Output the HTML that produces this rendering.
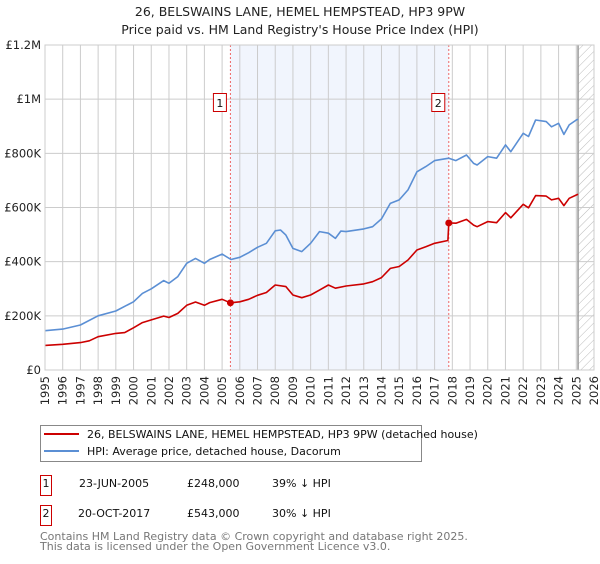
<!DOCTYPE html>
<html><head><meta charset="utf-8"><style>
body{margin:0;background:#fff;font-family:"DejaVu Sans","Liberation Sans",sans-serif;}
svg text{font-family:"DejaVu Sans","Liberation Sans",sans-serif;}
</style></head><body>
<svg id="c" width="600" height="560" viewBox="0 0 600 560" xmlns="http://www.w3.org/2000/svg">
<text x="300" y="16" font-size="12.5" text-anchor="middle" fill="#222">26, BELSWAINS LANE, HEMEL HEMPSTEAD, HP3 9PW</text>
<text x="300" y="34" font-size="12.5" text-anchor="middle" fill="#222">Price paid vs. HM Land Registry's House Price Index (HPI)</text>
<defs><pattern id="hatch" patternUnits="userSpaceOnUse" width="6" height="6" patternTransform="rotate(45)"><line x1="0" y1="0" x2="0" y2="6" stroke="#bbb" stroke-width="1"/></pattern></defs>
<g id="plot"></g>
<rect x="40.5" y="425.5" width="381" height="36" fill="#fff" stroke="#888"/>
<line x1="44" y1="434" x2="79" y2="434" stroke="#cc0000" stroke-width="2"/>
<text x="87" y="438" font-size="11" fill="#111">26, BELSWAINS LANE, HEMEL HEMPSTEAD, HP3 9PW (detached house)</text>
<line x1="44" y1="451" x2="79" y2="451" stroke="#5b8fd4" stroke-width="2"/>
<text x="87" y="455" font-size="11" fill="#111">HPI: Average price, detached house, Dacorum</text>
<g font-size="11" fill="#111">
<rect x="40.5" y="475.5" width="11" height="20" fill="#fff" stroke="#cc0000"/>
<text x="46" y="487" text-anchor="middle">1</text>
<text x="79" y="487">23-JUN-2005</text><text x="187" y="487">£248,000</text><text x="272" y="487">39% ↓ HPI</text></g>
<g font-size="11" fill="#111">
<rect x="40.5" y="505.5" width="11" height="20" fill="#fff" stroke="#cc0000"/>
<text x="46" y="517" text-anchor="middle">2</text>
<text x="78" y="517">20-OCT-2017</text><text x="187" y="517">£543,000</text><text x="272" y="517">30% ↓ HPI</text></g>
<text x="40" y="540" font-size="11" fill="#777">Contains HM Land Registry data © Crown copyright and database right 2025.</text>
<text x="40" y="550" font-size="11" fill="#777">This data is licensed under the Open Government Licence v3.0.</text>
</svg>
<script>
const yTicks=[0,200,400,600,800,1000,1200];
const yTickLabels=["£0","£200K","£400K","£600K","£800K","£1M","£1.2M"];
const xYears=[1995,1996,1997,1998,1999,2000,2001,2002,2003,2004,2005,2006,2007,2008,2009,2010,2011,2012,2013,2014,2015,2016,2017,2018,2019,2020,2021,2022,2023,2024,2025,2026];
const hpiT=[1995,1996,1997,1998,1999,2000,2000.5,2001,2001.7,2002,2002.5,2003,2003.5,2004,2004.3,2005,2005.5,2006,2006.5,2007,2007.5,2008,2008.3,2008.6,2009,2009.5,2010,2010.5,2011,2011.4,2011.7,2012,2013,2013.5,2014,2014.5,2015,2015.5,2016,2016.5,2017,2017.8,2018.2,2018.8,2019.2,2019.4,2020,2020.5,2021,2021.3,2022,2022.3,2022.7,2023.3,2023.6,2024,2024.3,2024.6,2025,2025.1];
const hpiV=[145,151,166,200,218,252,283,300,330,320,345,394,412,394,408,428,408,416,433,453,468,514,517,498,449,437,468,511,505,486,513,511,521,529,558,615,628,665,732,751,773,782,773,794,763,757,788,782,831,806,874,862,923,917,898,911,870,905,923,926];
const ppT=[1995,1996,1997,1997.5,1998,1999,1999.5,2000,2000.5,2001,2001.7,2002,2002.5,2003,2003.5,2004,2004.3,2005,2005.47,2006,2006.5,2007,2007.5,2008,2008.6,2009,2009.5,2010,2010.5,2011,2011.4,2012,2013,2013.5,2014,2014.5,2015,2015.5,2016,2016.5,2017,2017.75,2017.8,2018.2,2018.8,2019.2,2019.4,2020,2020.5,2021,2021.3,2022,2022.3,2022.7,2023.3,2023.6,2024,2024.3,2024.6,2025,2025.1];
const ppV=[91,95,101,108,123,135,138,156,175,185,199,194,209,239,251,239,249,261,248,252,261,276,286,314,308,277,267,277,295,314,302,310,318,326,341,375,382,406,443,455,468,478,543,542,556,535,529,548,544,581,562,612,599,644,642,628,634,607,634,646,649];
const saleT=[2005.47,2017.8];
const saleV=[248,543];
const saleLabels=["1","2"];
const X0=45,X1=594,Y0=370,Y1=45,T0=1995,T1=2026,VMAX=1200,DATA_END=2025.1;
const xs=t=>X0+(t-T0)/(T1-T0)*(X1-X0);
const ys=v=>Y0-v/VMAX*(Y0-Y1);
const NS="http://www.w3.org/2000/svg";
const g=document.getElementById('plot');
function mk(tag,attrs,parent){const e=document.createElementNS(NS,tag);for(const k in attrs)e.setAttribute(k,attrs[k]);(parent||g).appendChild(e);return e;}
let r=mk('rect',{x:X0,y:Y1,width:X1-X0,height:Y0-Y1,fill:'#fff'});


r=mk('rect',{x:xs(saleT[0]),y:Y1,width:xs(saleT[1])-xs(saleT[0]),height:Y0-Y1,fill:'#eef3fc',opacity:0.8});


r=mk('rect',{x:xs(DATA_END),y:Y1,width:X1-xs(DATA_END),height:Y0-Y1,fill:'url(#hatch)'});


xYears.forEach(yr=>{const l=mk('line',{x1:xs(yr),x2:xs(yr),y1:Y1,y2:Y0,stroke:'#ccc','stroke-width':1});


const t=mk('text',{x:0,y:0,'font-size':11.5,fill:'#222','text-anchor':'end',transform:`translate(${xs(yr)+4},${Y0+6}) rotate(-90)`});t.textContent=yr;

});
yTicks.forEach((v,i)=>{const l=mk('line',{x1:X0,x2:X1,y1:ys(v),y2:ys(v),stroke:'#ccc','stroke-width':1});


const t=mk('text',{x:X0-4,y:ys(v)+4,'font-size':11.5,fill:'#222','text-anchor':'end'});t.textContent=yTickLabels[i];

});
let l=mk('line',{x1:xs(DATA_END),x2:xs(DATA_END),y1:Y1,y2:Y0,stroke:'#999','stroke-width':1.5});


saleT.forEach((t,i)=>{const d=mk('line',{x1:xs(t),x2:xs(t),y1:Y1,y2:Y0,stroke:'#e66','stroke-width':1,'stroke-dasharray':'2,2'});

});
function path(T,V,color,name){const p=mk('polyline',{points:T.map((t,i)=>xs(t).toFixed(1)+','+ys(V[i]).toFixed(1)).join(' '),fill:'none',stroke:color,'stroke-width':1.6,'stroke-linejoin':'round'});

}
path(hpiT,hpiV,'#5b8fd4','hpi-line');
path(ppT,ppV,'#cc0000','price-paid-line');
saleT.forEach((t,i)=>{const c=mk('circle',{cx:xs(t),cy:ys(saleV[i]),r:3.5,fill:'#cc0000'});


const bx=xs(t)-17;
const b=mk('rect',{x:bx,y:93.5,width:13,height:18,fill:'#fff',stroke:'#cc0000'});


const tx=mk('text',{x:bx+6.5,y:107,'font-size':11,'text-anchor':'middle',fill:'#111'});tx.textContent=saleLabels[i];

});
const f=mk('rect',{x:X0,y:Y1,width:X1-X0,height:Y0-Y1,fill:'none',stroke:'#ccc'});


</script>
</body></html>
